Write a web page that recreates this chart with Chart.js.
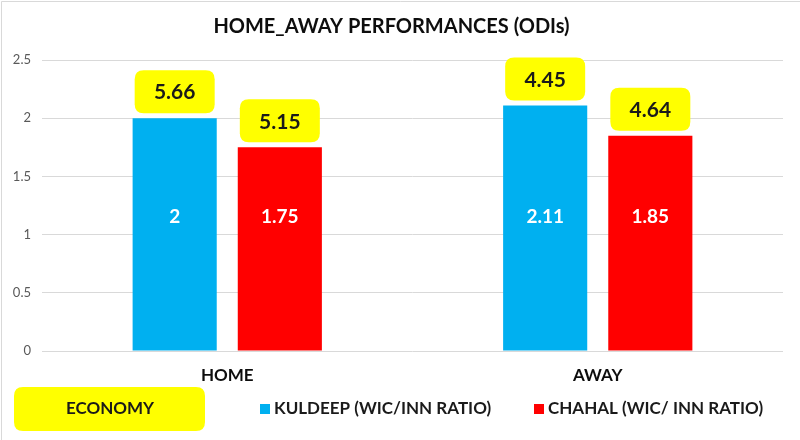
<!DOCTYPE html>
<html>
<head>
<meta charset="utf-8">
<script src="https://cdn.jsdelivr.net/npm/chart.js@4"></script>
<style>
  html, body { margin: 0; padding: 0; background: #fff; }
  #wrap { width: 800px; height: 440px; position: relative; }
</style>
</head>
<body>
<div id="wrap"><canvas id="c" width="800" height="440"></canvas></div>
<script>
const categories = ['HOME', 'AWAY'];
const kuldeepRatio = [2, 2.11];
const chahalRatio = [1.75, 1.85];
const kuldeepEconomy = [5.66, 4.45];
const chahalEconomy = [5.15, 4.64];
const seriesNames = ['KULDEEP (WIC/INN RATIO)', 'CHAHAL (WIC/ INN RATIO)'];
const economyLabel = 'ECONOMY';
const yTicks = [0, 0.5, 1, 1.5, 2, 2.5];

const FONT = 'Lato, "Open Sans", "Noto Sans", sans-serif';
const BLUE = '#00B0F0';
const RED = '#FF0000';
const YELLOW = '#FFFF00';

function roundRect(ctx, x, y, w, h, r) {
  ctx.beginPath();
  ctx.moveTo(x + r, y);
  ctx.lineTo(x + w - r, y);
  ctx.quadraticCurveTo(x + w, y, x + w, y + r);
  ctx.lineTo(x + w, y + h - r);
  ctx.quadraticCurveTo(x + w, y + h, x + w - r, y + h);
  ctx.lineTo(x + r, y + h);
  ctx.quadraticCurveTo(x, y + h, x, y + h - r);
  ctx.lineTo(x, y + r);
  ctx.quadraticCurveTo(x, y, x + r, y);
  ctx.closePath();
}

const decor = {
  id: 'decor',
  beforeDraw(chart) {
    const ctx = chart.ctx;
    ctx.save();
    ctx.fillStyle = '#fff';
    ctx.fillRect(0, 0, chart.width, chart.height);
    ctx.strokeStyle = '#d9d9d9';
    ctx.lineWidth = 1;
    ctx.beginPath();
    ctx.moveTo(1.5, chart.height);
    ctx.lineTo(1.5, 1.5);
    ctx.lineTo(chart.width, 1.5);
    ctx.stroke();
    ctx.restore();
  },
  afterDatasetsDraw(chart) {
    const ctx = chart.ctx;
    const area = chart.chartArea;
    const econ = [kuldeepEconomy, chahalEconomy];
    ctx.save();
    ctx.textAlign = 'center';
    ctx.textBaseline = 'middle';
    chart.data.datasets.forEach((ds, i) => {
      const meta = chart.getDatasetMeta(i);
      meta.data.forEach((bar, j) => {
        const labelY = area.top + (area.bottom - area.top) * 0.54;
        ctx.fillStyle = '#ffffff';
        ctx.font = 'bold 19px ' + FONT;
        ctx.fillText(String(ds.data[j]), bar.x, labelY);
        const bw = 80, bh = 43;
        const bx = bar.x - bw / 2;
        const by = bar.y - 5 - bh;
        ctx.fillStyle = YELLOW;
        roundRect(ctx, bx, by, bw, bh, 9);
        ctx.fill();
        ctx.fillStyle = '#1a1a1a';
        ctx.font = 'bold 21px ' + FONT;
        ctx.fillText(econ[i][j].toFixed(2), bar.x, by + bh / 2 + 1);
      });
    });
    ctx.restore();
  },
  afterDraw(chart) {
    const ctx = chart.ctx;
    ctx.save();
    const ly = 409;
    ctx.fillStyle = YELLOW;
    roundRect(ctx, 14, 387, 191, 44, 9);
    ctx.fill();
    ctx.fillStyle = '#1a1a1a';
    ctx.font = 'bold 17px ' + FONT;
    ctx.textAlign = 'center';
    ctx.textBaseline = 'middle';
    ctx.fillText(economyLabel, 110, ly);
    ctx.textAlign = 'left';
    const items = [
      { x: 260, color: chart.data.datasets[0].backgroundColor, text: chart.data.datasets[0].label },
      { x: 534, color: chart.data.datasets[1].backgroundColor, text: chart.data.datasets[1].label }
    ];
    items.forEach(it => {
      ctx.fillStyle = it.color;
      ctx.fillRect(it.x, ly - 5, 10, 10);
      ctx.fillStyle = '#1a1a1a';
      ctx.fillText(it.text, it.x + 14, ly);
    });
    ctx.restore();
  }
};

new Chart(document.getElementById('c'), {
  type: 'bar',
  data: {
    labels: categories,
    datasets: [
      { label: seriesNames[0], data: kuldeepRatio, backgroundColor: BLUE,
        categoryPercentage: 0.5676, barPercentage: 0.8 },
      { label: seriesNames[1], data: chahalRatio, backgroundColor: RED,
        categoryPercentage: 0.5676, barPercentage: 0.8 }
    ]
  },
  options: {
    responsive: false,
    animation: false,
    devicePixelRatio: 1,
    layout: { padding: { left: 0, right: 17, top: 0, bottom: 54 } },
    plugins: {
      legend: { display: false },
      tooltip: { enabled: false },
      title: {
        display: true,
        text: 'HOME_AWAY PERFORMANCES (ODIs)',
        color: '#0d0d0d',
        font: { family: FONT, size: 20, weight: 'bold', lineHeight: 1.2 },
        padding: { top: 15, bottom: 21 }
      }
    },
    scales: {
      x: {
        grid: { display: false, drawTicks: false },
        border: { display: false },
        ticks: { color: '#0d0d0d', font: { family: FONT, size: 17, weight: 'bold' }, padding: 14 },
        afterFit(s) { s.height = 35; }
      },
      y: {
        min: 0, max: 2.5,
        afterBuildTicks(s) { s.ticks = yTicks.map(v => ({ value: v })); },
        grid: { color: '#d9d9d9', drawTicks: false, lineWidth: 1 },
        border: { display: false },
        ticks: { color: '#595959', font: { family: FONT, size: 13 }, padding: 11,
                 callback: (v) => String(v) },
        afterFit(s) { s.width = 42; }
      }
    }
  },
  plugins: [decor]
});
</script>
</body>
</html>
